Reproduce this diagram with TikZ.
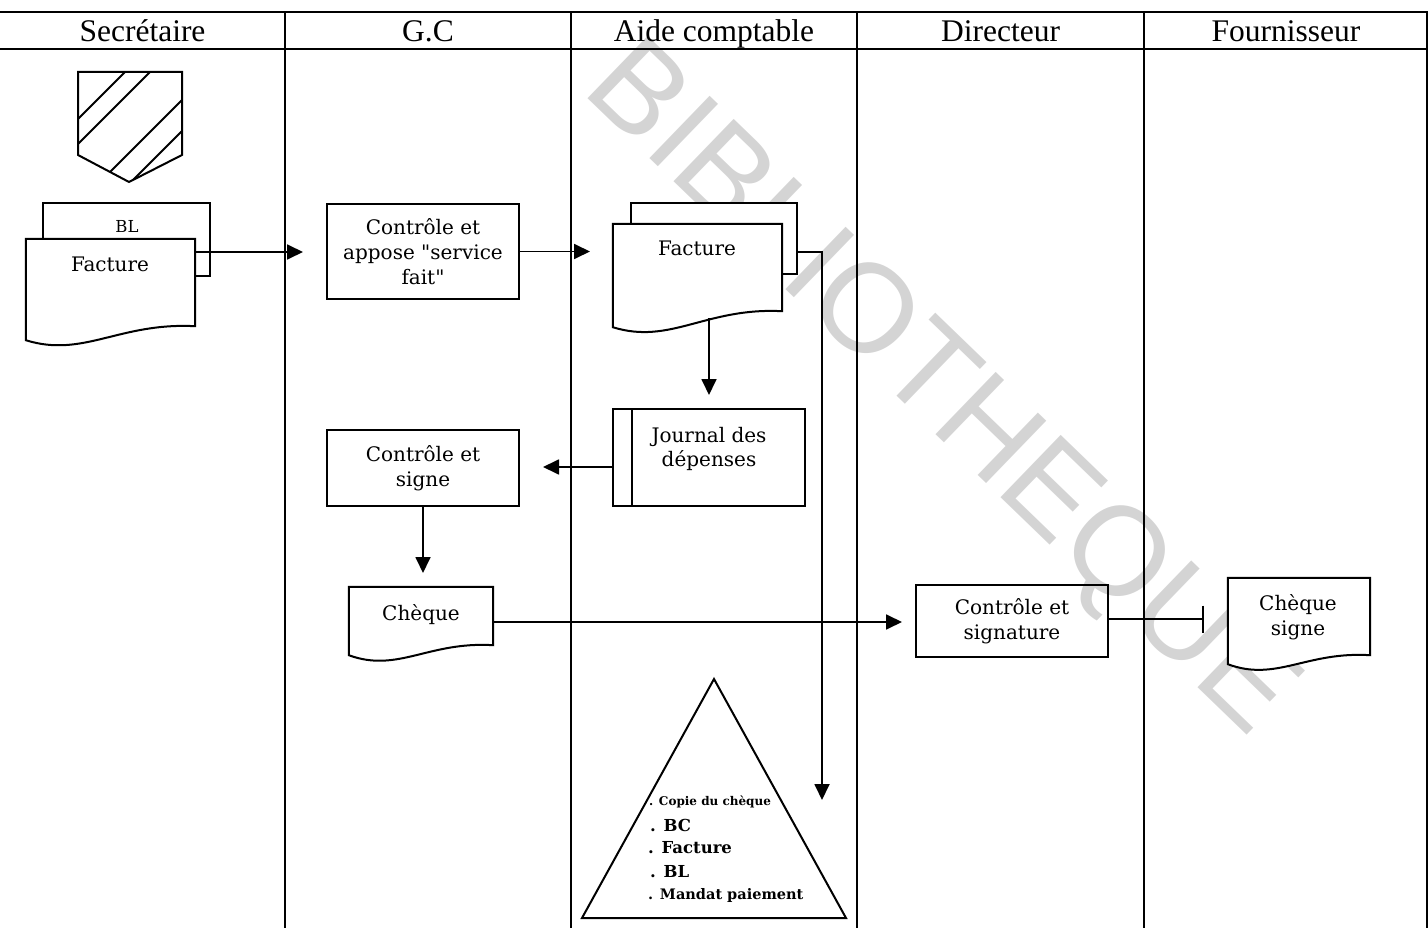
\documentclass[tikz,border=0pt]{standalone}
\usepackage{fontspec}
\setmainfont{Liberation Serif}
\newfontfamily\boxfont{DejaVu Serif}
\newfontfamily\wmfont{Liberation Sans}
\usetikzlibrary{arrows.meta,calc}

\definecolor{wmgray}{RGB}{212,212,212}

% document symbol: straight top and sides, wavy bottom edge
\newcommand\docwave[2]{%
  \draw[docline] (#1.north west) -- (#1.north east) -- (#1.south east)
    .. controls ($(#1.south east)!0.45!(#1.south west)+(0,-4)$)
       and ($(#1.south east)!0.66!(#1.south west)+(0,#2+18)$)
    .. ($(#1.south west)+(0,#2)$) -- cycle;}

\tikzset{
  lane/.style={line width=1.4pt},
  head/.style={font=\fontsize{31.5}{36}\selectfont, inner sep=0pt, anchor=base},
  box/.style={draw, line width=2pt, rectangle, inner sep=0pt, align=center,
    font=\boxfont\fontsize{20}{25}\selectfont},
  docbody/.style={rectangle, inner sep=0pt},
  docline/.style={draw, fill=white, line width=2pt},
  backdoc/.style={draw, fill=white, line width=2pt, rectangle, inner sep=0pt},
  doctext/.style={inner sep=0pt, anchor=base, font=\boxfont\fontsize{20}{25}\selectfont},
  flow/.style={line width=1.8pt, -{Triangle[length=16pt,width=15pt]}},
  stopline/.style={line width=1.8pt, -{Bar[width=27pt,line width=1.8pt]}},
  listitem/.style={inner sep=0pt, anchor=base west},
  wm/.style={text=wmgray, inner sep=0pt, font=\wmfont\fontsize{126}{130}\selectfont}
}

\begin{document}
\begin{tikzpicture}[x=1pt,y=-1pt]
\useasboundingbox (0,0) rectangle (1428,928);
\begin{scope}
\clip (0,0) rectangle (1428,928);

% watermark behind the chart
\node[wm, rotate=-44] (wmark) at (938,392) {BIBLIOTHEQUE};

% swimlane grid
\draw[lane] (0,12) -- (1428,12);
\draw[lane] (0,49) -- (1428,49);
\foreach \x in {285,571,857,1144,1427}
  \draw[lane] (\x,12) -- (\x,928);

\node[head] (hSec) at (142.5,41.5) {Secrétaire};
\node[head] (hGC)  at (428,41.5)   {G.C};
\node[head] (hAC)  at (714,41.5)   {Aide comptable};
\node[head] (hDir) at (1000.5,41.5){Directeur};
\node[head] (hFou) at (1286,41.5)  {Fournisseur};

% hatched off-page connector
\begin{scope}
  \clip (78,72) -- (182,72) -- (182,155) -- (129,182) -- (78,155) -- cycle;
  \foreach \c in {197,222,282,313}
    \draw[line width=1.8pt] (\c-220,220) -- (\c-40,40);
\end{scope}
\draw[line width=2pt, line join=miter] (78,72) -- (182,72) -- (182,155) -- (129,182) -- (78,155) -- cycle;

% Secrétaire: BL and Facture
\node[backdoc, minimum width=167pt, minimum height=73pt] (blS) at (126.5,239.5) {};
\node[doctext, font=\boxfont\fontsize{16.5}{20}\selectfont] (blSt) at (127,233) {BL};
\node[docbody, minimum width=169pt, minimum height=87pt] (facS) at (110.5,282.5) {};
\docwave{facS}{14}
\node[doctext] (facSt) at (110,272) {Facture};

% G.C
\node[box, minimum width=192pt, minimum height=95pt] (cA) at (423,251.5)
  {Contrôle et\\appose "service\\fait"};
\node[box, minimum width=192pt, minimum height=76pt] (cS) at (423,468)
  {Contrôle et\\signe};
\node[docbody, minimum width=144pt, minimum height=58pt] (chq) at (421,616) {};
\docwave{chq}{10}
\node[doctext] (chqt) at (421,620) {Chèque};

% Aide comptable
\node[backdoc, minimum width=166pt, minimum height=71pt] (backA) at (714,238.5) {};
\node[docbody, minimum width=169pt, minimum height=87pt] (facA) at (697.5,267.5) {};
\docwave{facA}{16}
\node[doctext] (facAt) at (697,256) {Facture};

\node[box, minimum width=192pt, minimum height=97pt] (jd) at (709,457.5) {};
\draw[line width=2pt] (632,409) -- (632,506);
\node[doctext] (jdt1) at (709,442) {Journal des};
\node[doctext] (jdt2) at (709,466) {dépenses};

\draw[line width=2pt, line join=miter] (714,679) -- (846,918) -- (582,918) -- cycle;
\node[listitem, font=\boxfont\bfseries\fontsize{12}{14}\selectfont] (l1) at (649,805) {. Copie du chèque};
\node[listitem, font=\boxfont\bfseries\fontsize{16.5}{18}\selectfont] (l2) at (650,831) {. BC};
\node[listitem, font=\boxfont\bfseries\fontsize{16.5}{18}\selectfont] (l3) at (648,853) {. Facture};
\node[listitem, font=\boxfont\bfseries\fontsize{16.5}{18}\selectfont] (l4) at (650,877) {. BL};
\node[listitem, font=\boxfont\bfseries\fontsize{14.5}{16}\selectfont] (l5) at (648,899) {. Mandat paiement};

% Directeur
\node[box, minimum width=192pt, minimum height=72pt] (cD) at (1012,621)
  {Contrôle et\\signature};

% Fournisseur
\node[docbody, minimum width=142pt, minimum height=77pt] (chqS) at (1299,616.5) {};
\docwave{chqS}{9}
\node[doctext] (chqSt1) at (1298,610) {Chèque};
\node[doctext] (chqSt2) at (1298,635) {signe};

% loose ends of the flow lines
\coordinate (toGC)  at (303,252);
\coordinate (toAC)  at (590,251.5);
\coordinate (toArc) at (822,800);
\coordinate (toJd)  at (709,395);
\coordinate (toCS)  at (543,467);
\coordinate (toChq) at (423,573);
\coordinate (toDir) at (902,622);
\coordinate (toFou) at (1204,619);

% flow
\draw[flow] ([yshift=30.5pt]facS.east) -- (toGC);
\draw[flow] (cA.east) -- (toAC);
\draw[flow] ([yshift=-13.5pt]backA.east) -| (toArc);
\draw[flow] ([xshift=11.5pt,yshift=-7pt]facA.south) -- (toJd);
\draw[flow] ([yshift=-9.5pt]jd.west) -- (toCS);
\draw[flow] (cS.south) -- (toChq);
\draw[flow] ([yshift=-6pt]chq.east) -- (toDir);
\draw[stopline] ([yshift=2pt]cD.east) -- (toFou);
\end{scope}
\end{tikzpicture}
\end{document}
